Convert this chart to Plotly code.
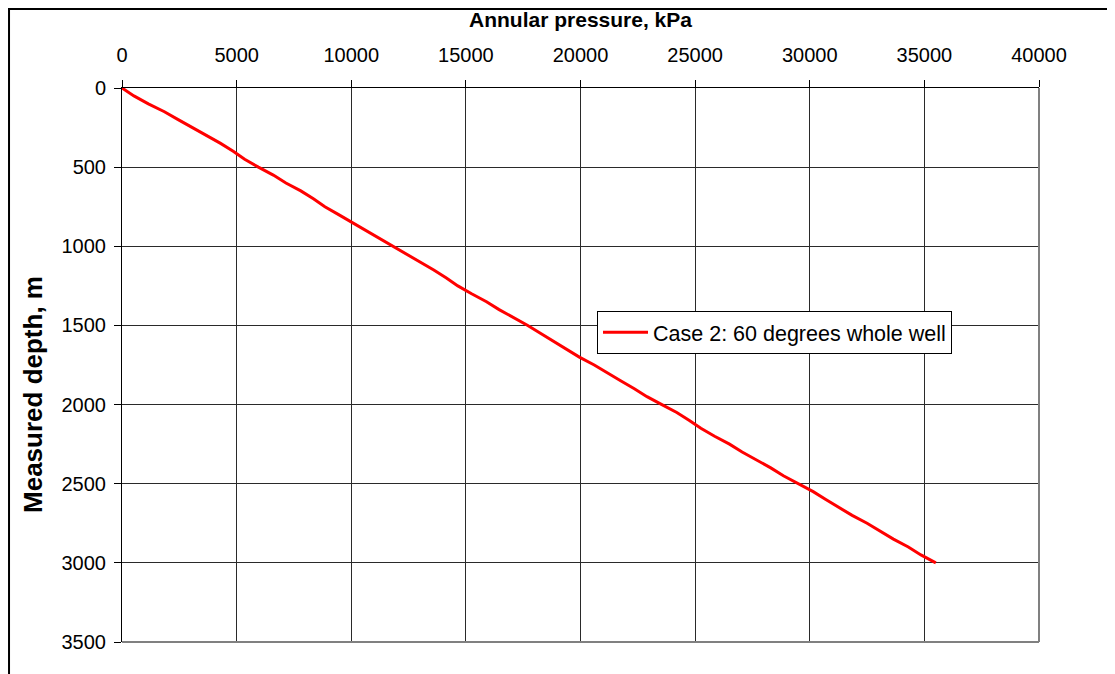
import plotly.graph_objects as go

# data
depth_m = [0, 50, 100, 150, 200, 250, 300, 350, 400, 450, 500, 550, 600, 650, 700, 750,
           800, 850, 900, 950, 1000, 1050, 1100, 1150, 1200, 1250, 1300, 1350, 1400, 1450,
           1500, 1550, 1600, 1650, 1700, 1750, 1800, 1850, 1900, 1950, 2000, 2050, 2100,
           2150, 2200, 2250, 2300, 2350, 2400, 2450, 2500, 2550, 2600, 2650, 2700, 2750,
           2800, 2850, 2900, 2950, 3000]
pressure_kpa = [0, 520, 1150, 1850, 2450, 3080, 3650, 4300, 4850, 5350, 5950, 6600, 7150,
                7800, 8350, 8850, 9450, 10050, 10600, 11250, 11850, 12400, 13000, 13600,
                14150, 14650, 15250, 15900, 16450, 17100, 17700, 18250, 18800, 19400, 19950,
                20600, 21150, 21750, 22350, 22900, 23550, 24200, 24750, 25250, 25850, 26500,
                27050, 27700, 28300, 28850, 29500, 30150, 30700, 31250, 31850, 32500, 33050,
                33650, 34300, 34850, 35500]

series_name = "Case 2: 60 degrees whole well"
x_ticks = [0, 5000, 10000, 15000, 20000, 25000, 30000, 35000, 40000]
y_ticks = [0, 500, 1000, 1500, 2000, 2500, 3000, 3500]

FONT = "Liberation Sans, Arial, sans-serif"

fig = go.Figure()
fig.add_trace(go.Scatter(
    x=pressure_kpa, y=depth_m, mode="lines", name=series_name,
    line=dict(color="#ff0000", width=3),
))

# page body adds 8px offset, so the figure is shifted accordingly
fig.update_layout(
    width=1107, height=666,
    margin=dict(l=114, r=76, t=80, b=32, autoexpand=False),
    paper_bgcolor="white", plot_bgcolor="white",
    font=dict(family=FONT, size=20, color="black"),
    showlegend=True,
    legend=dict(
        x=0.518, y=0.598, xanchor="left", yanchor="top",
        bgcolor="white", bordercolor="black", borderwidth=1,
        font=dict(family=FONT, size=21.5, color="black"),
        itemwidth=45, tracegroupgap=0,
    ),
)

fig.update_xaxes(
    side="top", range=[0, 40000], tickvals=x_ticks, tickformat="d",
    showgrid=True, gridcolor="#2a2a2a", gridwidth=1,
    showline=True, linecolor="black", linewidth=1, mirror=False,
    ticks="outside", ticklen=7, tickcolor="black", ticklabelstandoff=10,
    zeroline=False, automargin=False,
    title=dict(text="<b>Annular pressure, kPa</b>", font=dict(family=FONT, size=21), standoff=11),
)
fig.update_yaxes(
    range=[3500, 0], tickvals=y_ticks, tickformat="d",
    showgrid=True, gridcolor="#2a2a2a", gridwidth=1,
    showline=True, linecolor="black", linewidth=1,
    ticks="outside", ticklen=7, tickcolor="black", ticklabelstandoff=4,
    zeroline=False, automargin=False,
)

# y-axis title sits a little below the plot centre in the original
fig.add_annotation(
    text="<b>Measured depth, m</b>", textangle=-90, showarrow=False,
    xref="paper", yref="paper", x=-0.097, y=0.446, xanchor="center", yanchor="middle",
    font=dict(family=FONT, size=26, color="black"),
)

# gray plot-area border on the right and bottom
fig.add_shape(type="line", xref="paper", yref="paper", x0=1, x1=1, y0=0, y1=1,
              line=dict(color="#808080", width=2))
fig.add_shape(type="line", xref="paper", yref="paper", x0=0, x1=1, y0=0, y1=0,
              line=dict(color="#808080", width=2))
# outer chart frame (runs past the image edges)
fig.add_shape(type="rect", xref="paper", yref="paper", x0=-0.1232, x1=1.2, y0=-0.2, y1=1.1425,
              line=dict(color="black", width=2), layer="below")

fig.write_html("out.html")
